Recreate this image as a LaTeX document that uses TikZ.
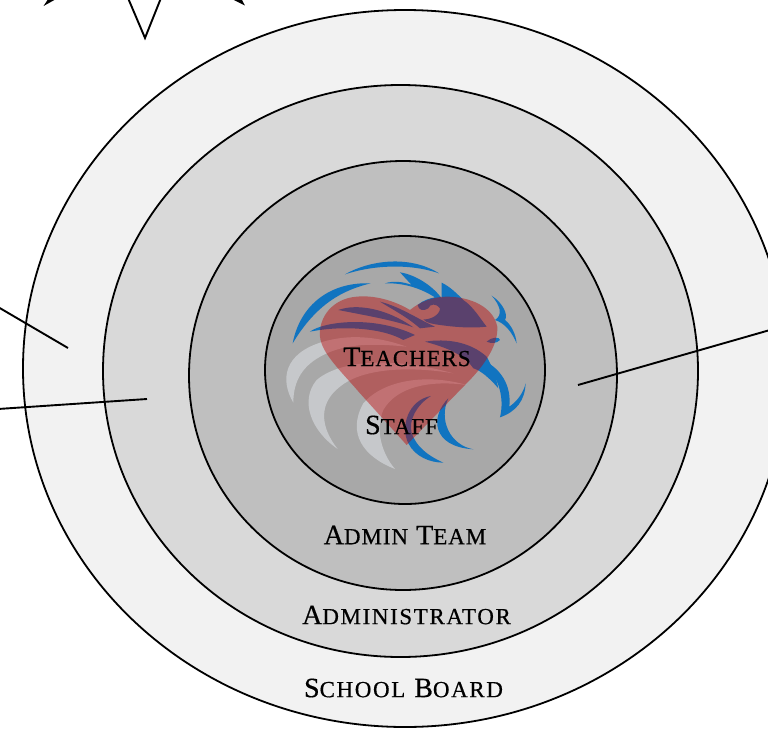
\documentclass[tikz,border=0pt]{standalone}
\usepackage{xcolor}
\usepackage{fontspec}
\newfontfamily\capsfont[FakeBold=0.5,LetterSpace=4]{Liberation Serif}
\newfontfamily\widecapsfont[FakeBold=0.5,LetterSpace=7]{Liberation Serif}
\newcommand\lowcaps[1]{{\fontsize{23}{23}\selectfont #1}}
\definecolor{logoblue}{HTML}{1174C0}
\definecolor{logowhite}{HTML}{C6C8CB}
\definecolor{heartred}{HTML}{BB0000}

\begin{document}
\begin{tikzpicture}[x=1pt,y=-1pt]
    \tikzstyle{ring}=[draw=black, line width=1.8pt]
    \tikzstyle{spoke}=[draw=black, line width=1.9pt]
    \tikzstyle{label}=[inner sep=0pt, text=black, font=\capsfont\fontsize{28}{28}\selectfont]
    \tikzstyle{wide label}=[label, font=\widecapsfont\fontsize{28}{28}\selectfont]
    \tikzstyle{blue part}=[fill=logoblue]
    \tikzstyle{pale part}=[fill=logowhite]

    \useasboundingbox (0,0) rectangle (768,728);
    \clip (0,0) rectangle (768,728);
    \fill[white] (0,0) rectangle (768,728);

%    star above the rings, cut by the page
    \draw[spoke] (128,-2) -- (145,38) -- (161,-2);
    \draw[spoke, fill=black] (50,-2) -- (46.5,3.3) -- (56,-2);
    \draw[spoke, fill=black] (232,-2) -- (242.7,3.3) -- (240,-2);

    \foreach \cx/\cy/\rx/\ry/\tone in {405/368.5/382/358.5/F2F2F2, 400.5/371/297.5/286/D9D9D9, 403/375.5/214/214.5/BFBFBF, 405/370/140/134/A8A8A8}{
        \definecolor{ringtone}{HTML}{\tone}
        \draw[ring, fill=ringtone] (\cx,\cy) ellipse [x radius=\rx pt, y radius=\ry pt];
    }

%    logo, numbers read from the 3x crop
    \begin{scope}[shift={(260pt,-240pt)}, x=0.3333pt, y=-0.3333pt]
        \fill[pale part] (100,488) .. controls (60,420) and (70,340) .. (190,305) .. controls (260,285) and (340,285) .. (440,320) .. controls (340,310) and (260,310) .. (190,345) .. controls (130,375) and (100,420) .. (100,488) -- cycle;
        \fill[pale part] (233,627) .. controls (150,570) and (120,480) .. (170,420) .. controls (240,360) and (400,350) .. (580,400) .. controls (430,375) and (300,390) .. (240,440) .. controls (175,490) and (180,560) .. (233,627) -- cycle;
        \fill[pale part] (405,687) .. controls (310,650) and (260,580) .. (310,490) .. controls (370,420) and (500,400) .. (620,435) .. controls (510,420) and (410,440) .. (370,510) .. controls (345,570) and (365,640) .. (405,687) -- cycle;

        \fill[blue part] (255,103) .. controls (330,60) and (450,45) .. (537,100) .. controls (450,70) and (340,75) .. (255,103) -- cycle;
        \fill[blue part] (98,310) .. controls (120,195) and (210,125) .. (332,130) .. controls (250,150) and (170,190) .. (98,310) -- cycle;
        \fill[blue part] (375,130) .. controls (400,122) and (430,125) .. (455,135) -- (420,97) .. controls (470,105) and (520,140) .. (545,175) -- (545,128) .. controls (570,140) and (590,160) .. (610,180) .. controls (640,200) and (660,235) .. (680,260) .. controls (640,265) and (590,262) .. (540,255) .. controls (520,252) and (500,250) .. (490,238) .. controls (510,240) and (540,225) .. (540,205) .. controls (530,190) and (510,190) .. (505,205) .. controls (490,215) and (475,210) .. (473,195) .. controls (490,180) and (510,175) .. (525,172) .. controls (490,150) and (440,128) .. (375,130) -- cycle;
        \fill[blue part] (235,210) .. controls (290,190) and (380,205) .. (460,262) .. controls (400,240) and (310,225) .. (235,210) -- cycle;
        \fill[blue part] (150,275) .. controls (190,245) and (340,225) .. (465,285) -- (430,300) .. controls (370,265) and (250,255) .. (150,275) -- cycle;
        \fill[blue part] (360,185) .. controls (420,200) and (470,235) .. (525,260) -- (480,265) .. controls (440,230) and (400,210) .. (360,185) -- cycle;
        \fill[blue part] (495,305) .. controls (560,295) and (630,305) .. (680,350) .. controls (700,385) and (710,420) .. (715,445) .. controls (690,415) and (660,390) .. (640,385) .. controls (610,340) and (550,320) .. (495,305) -- cycle;
        \fill[blue part] (655,355) .. controls (725,380) and (755,440) .. (748,500) .. controls (770,485) and (790,460) .. (797,430) .. controls (795,480) and (770,515) .. (720,532) .. controls (735,470) and (715,400) .. (655,355) -- cycle;
        \fill[blue part] (695,167) .. controls (730,190) and (745,225) .. (735,240) .. controls (755,255) and (768,285) .. (770,310) .. controls (755,275) and (735,250) .. (705,240) .. controls (730,225) and (720,195) .. (695,167) -- cycle;
        \fill[blue part] (680,305) .. controls (695,290) and (720,290) .. (720,300) .. controls (710,310) and (695,312) .. (680,305) -- cycle;
        \fill[blue part] (565,475) .. controls (510,530) and (515,620) .. (640,628) .. controls (570,615) and (535,540) .. (565,475) -- cycle;
        \fill[blue part] (513,468) .. controls (445,480) and (420,560) .. (445,610) .. controls (465,650) and (510,668) .. (550,668) .. controls (500,645) and (470,620) .. (455,580) .. controls (445,540) and (470,495) .. (513,468) -- cycle;

        \fill[heartred, opacity=.43] (450,210) .. controls (400,180) and (340,165) .. (290,170) .. controls (220,175) and (175,230) .. (180,290) .. controls (185,340) and (240,390) .. (300,460) -- (440,615) -- (620,430) .. controls (680,370) and (715,310) .. (712,260) .. controls (700,200) and (630,170) .. (560,170) .. controls (520,170) and (480,185) .. (450,210) -- cycle;
    \end{scope}

    \node[label] (teachers) at (407,357) {T\lowcaps{EACHERS}};
    \node[label] (staff) at (401.5,425) {S\lowcaps{TAFF}};
    \node[label] (adminteam) at (405,535) {A\lowcaps{DMIN} T\lowcaps{EAM}};
    \node[wide label] (administrator) at (406.5,615) {A\lowcaps{DMINISTRATOR}};
    \node[wide label] (schoolboard) at (403.5,688) {S\lowcaps{CHOOL} B\lowcaps{OARD}};

    \coordinate (boardout) at (-2,307);
    \coordinate (boardin) at (68,348);
    \coordinate (adminout) at (-2,409);
    \coordinate (adminin) at (147,399);
    \coordinate (teamout) at (770,330);
    \coordinate (teamin) at (578,385);

    \draw[spoke] (boardout) -- (boardin);
    \draw[spoke] (adminout) -- (adminin);
    \draw[spoke] (teamout) -- (teamin);
\end{tikzpicture}
\end{document}
